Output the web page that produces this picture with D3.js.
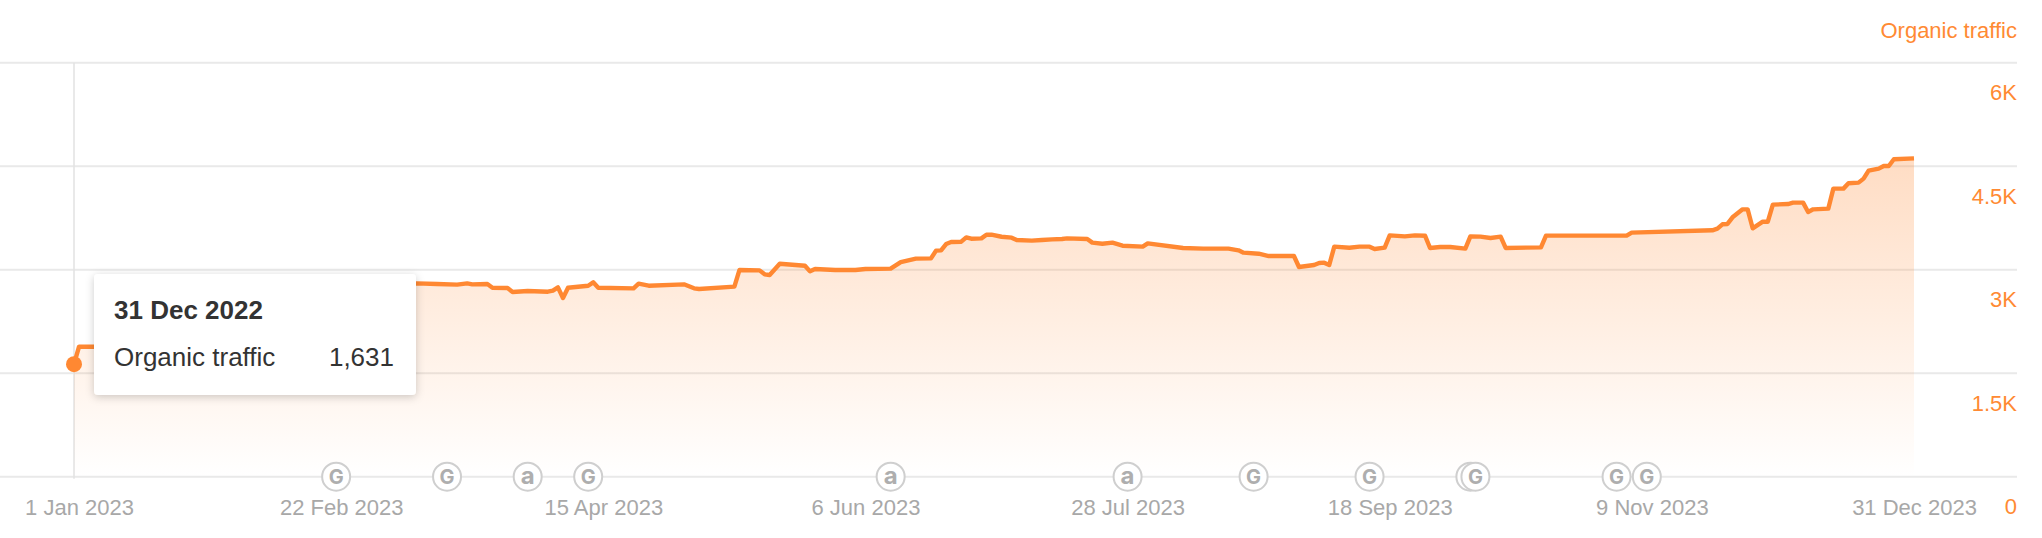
<!DOCTYPE html>
<html><head><meta charset="utf-8">
<script src="https://cdn.jsdelivr.net/npm/d3@7/dist/d3.min.js"></script>
<style>
html,body{margin:0;padding:0;background:#fff}
svg{display:block;font-family:"Liberation Sans",Helvetica,Arial,sans-serif}
</style></head><body><svg id="c" width="2042" height="538"></svg>
<script>
const startDate = new Date(2022, 11, 31);
const dayOffsets = [0,1,4,68,72,76,78,79,82,83,86,87,90,94,95,96,97,98,102,103,104,111,112,114,121,123,124,131,132,136,137,138,140,145,146,147,151,155,157,162,164,167,170,171,172,173,174,176,177,178,180,181,182,184,186,187,190,192,194,196,197,201,202,204,206,208,212,213,220,224,229,231,232,235,237,242,243,246,247,248,249,250,253,255,257,258,260,261,264,266,268,269,271,273,276,277,279,281,283,284,291,292,308,309,325,326,327,328,329,331,332,333,335,336,337,340,341,343,344,345,348,349,351,352,354,355,356,358,359,360,361,365];
const trafficValues = [1631,1884,1884,2802,2792,2783,2802,2788,2792,2739,2734,2677,2691,2681,2696,2744,2590,2739,2768,2817,2739,2730,2797,2768,2788,2730,2720,2754,2995,2990,2933,2923,3087,3058,2976,3010,2995,2995,3010,3015,3111,3160,3164,3276,3280,3372,3401,3406,3469,3449,3454,3507,3507,3478,3464,3430,3421,3430,3440,3445,3454,3445,3392,3377,3392,3348,3334,3382,3314,3305,3305,3281,3247,3232,3198,3198,3039,3068,3097,3102,3068,3334,3319,3334,3334,3300,3319,3498,3483,3498,3493,3314,3329,3329,3305,3483,3479,3459,3479,3315,3324,3494,3494,3537,3571,3595,3658,3663,3759,3875,3875,3600,3696,3696,3943,3952,3972,3972,3837,3875,3885,4175,4175,4252,4262,4320,4436,4465,4503,4503,4600,4614];
const yTicks = [0,1500,3000,4500,6000];
const yTickLabels = ["0","1.5K","3K","4.5K","6K"];
const xTickDays = [1,53,105,157,209,261,313,365];
const xTickLabels = ["1 Jan 2023","22 Feb 2023","15 Apr 2023","6 Jun 2023","28 Jul 2023","18 Sep 2023","9 Nov 2023","31 Dec 2023"];
const markerDays = [52,74,90,102,162,209,234,257,277,278,306,312];
const markerKinds = ["G","G","a","G","a","a","G","G","G","G","G","G"];
const seriesName = "Organic traffic";
const tooltipDate = "31 Dec 2022";
const tooltipValue = "1,631";

const orange = "#ff8832", orangeText = "#ff8a33", gridC = "#e9e9e9", tickC = "#a8a8a8";
const toDate = d => d3.timeDay.offset(startDate, d);
const x = d3.scaleTime().domain([startDate, toDate(365)]).range([74, 1914]);
const y = d3.scaleLinear().domain([0, 6000]).range([476.7, 62.7]);
const svg = d3.select("#c");

const defs = svg.append("defs");
const grad = defs.append("linearGradient").attr("id","fill").attr("gradientUnits","userSpaceOnUse")
  .attr("x1",0).attr("x2",0).attr("y1",y(4614)).attr("y2",y(0));
grad.append("stop").attr("offset",0).attr("stop-color",orange).attr("stop-opacity",0.29);
grad.append("stop").attr("offset",1).attr("stop-color",orange).attr("stop-opacity",0.0);
const sh = defs.append("filter").attr("id","sh").attr("x","-10%").attr("y","-15%").attr("width","120%").attr("height","135%");
sh.append("feDropShadow").attr("dx",0).attr("dy",2).attr("stdDeviation",4).attr("flood-color","#000").attr("flood-opacity",0.2);

const pts = dayOffsets.map((d,i)=>({date:toDate(d), v:trafficValues[i]}));

// grid
svg.append("g").selectAll("line").data(yTicks).join("line")
  .attr("x1",0).attr("x2",2017).attr("y1",d=>y(d)).attr("y2",d=>y(d))
  .attr("stroke",gridC).attr("stroke-width",2);

// crosshair
svg.append("line").attr("x1",x(startDate)).attr("x2",x(startDate)).attr("y1",y(6000)).attr("y2",y(0)+2)
  .attr("stroke","#e2e2e2").attr("stroke-width",1.5);

// area + line
svg.append("path").datum(pts).attr("fill","url(#fill)")
  .attr("d",d3.area().x(d=>x(d.date)).y0(y(0)).y1(d=>y(d.v)));
svg.append("path").datum(pts).attr("fill","none").attr("stroke",orange).attr("stroke-width",4.4)
  .attr("stroke-linejoin","round")
  .attr("d",d3.line().x(d=>x(d.date)).y(d=>y(d.v)));
svg.append("circle").attr("cx",x(pts[0].date)).attr("cy",y(pts[0].v)).attr("r",8).attr("fill",orange);

// y axis
const yAxis = d3.axisLeft(y).tickValues(yTicks).tickSize(0).tickPadding(0).tickFormat((d,i)=>yTickLabels[i]);
const gy = svg.append("g").attr("transform","translate(2017,30)").call(yAxis);
gy.select(".domain").remove();
gy.selectAll("text").attr("fill",orangeText).attr("font-size",22).attr("font-family","inherit");
svg.append("text").attr("x",2017).attr("y",38).attr("text-anchor","end").attr("fill",orangeText).attr("font-size",22).text(seriesName);

// x axis
const xAxis = d3.axisBottom(x).tickValues(xTickDays.map(toDate)).tickSize(0).tickPadding(0).tickFormat((d,i)=>xTickLabels[i]);
const gx = svg.append("g").attr("transform","translate(0,499)").call(xAxis);
gx.select(".domain").remove();
gx.selectAll("text").attr("fill",tickC).attr("font-size",22).attr("font-family","inherit").attr("dy","0.71em");

// event markers
const mk = svg.append("g").selectAll("g").data(markerDays).join("g")
  .attr("transform",d=>`translate(${x(toDate(d))},${y(0)})`);
mk.append("circle").attr("r",14).attr("fill","#fff").attr("stroke","#cfcfcf").attr("stroke-width",2);
mk.append("text").attr("text-anchor","middle").attr("y",(d,i)=>markerKinds[i]==="a"?7.5:7.5).attr("fill","#aeaeae")
  .attr("font-family","Inter, sans-serif").attr("font-weight",700)
  .attr("font-size",(d,i)=>markerKinds[i]==="a"?24:20)
  .text((d,i)=>markerKinds[i]);

// tooltip
const tt = svg.append("g").attr("transform","translate(94,274)");
tt.append("rect").attr("width",322).attr("height",121).attr("rx",4).attr("fill","#fff").attr("filter","url(#sh)");
tt.append("text").attr("x",20).attr("y",45).attr("fill","#333").attr("font-weight",700).attr("font-size",26).text(tooltipDate);
tt.append("text").attr("x",20).attr("y",92).attr("fill","#333").attr("font-size",26).text(seriesName);
tt.append("text").attr("x",300).attr("y",92).attr("text-anchor","end").attr("fill","#333").attr("font-size",26).text(tooltipValue);
</script></body></html>
